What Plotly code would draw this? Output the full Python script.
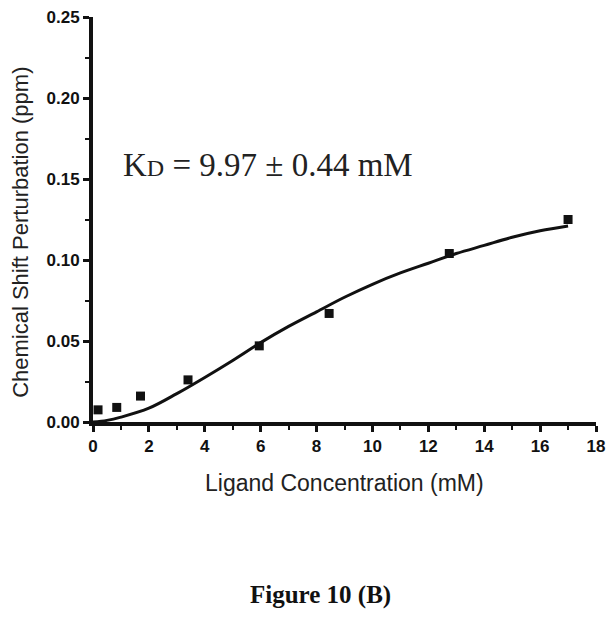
import plotly.graph_objects as go

# Observed data points
conc = [0.18, 0.85, 1.7, 3.4, 5.95, 8.45, 12.75, 17.0]
csp = [0.0075, 0.009, 0.016, 0.026, 0.047, 0.067, 0.104, 0.125]

# Fitted curve
fit_x = [0, 0.5, 1, 2, 3, 4, 5, 6, 7, 8, 9, 10, 11, 12, 13, 14, 15, 16, 17]
fit_y = [0.0, 0.001, 0.003, 0.0085, 0.0175, 0.0275, 0.038, 0.049, 0.059, 0.068,
         0.077, 0.085, 0.092, 0.098, 0.104, 0.109, 0.114, 0.118, 0.121]

x_ticks = [0, 2, 4, 6, 8, 10, 12, 14, 16, 18]
y_ticks = [0.00, 0.05, 0.10, 0.15, 0.20, 0.25]
y_ticklabels = ["0.00", "0.05", "0.10", "0.15", "0.20", "0.25"]

fig = go.Figure()
fig.add_trace(go.Scatter(x=fit_x, y=fit_y, mode="lines", line=dict(color="#111", width=3, shape="spline"),
                         showlegend=False, hoverinfo="skip"))
fig.add_trace(go.Scatter(x=conc, y=csp, mode="markers",
                         marker=dict(symbol="square", size=9, color="#111"), showlegend=False))

tickfont = dict(family="Liberation Sans, Arial, sans-serif", size=17, color="#111", weight="bold")
fig.update_xaxes(range=[0, 18], tickvals=x_ticks, ticks="outside", ticklen=6, tickwidth=3, tickcolor="#111",
                 showline=True, linewidth=4, linecolor="#111", showgrid=False, zeroline=False,
                 tickfont=tickfont, automargin=False, ticklabeloverflow="allow",
                 minor=dict(ticks="outside", dtick=1, ticklen=4, tickwidth=2, tickcolor="#111"))
fig.update_yaxes(range=[0, 0.25], tickvals=y_ticks, ticktext=y_ticklabels, ticks="outside", ticklen=6,
                 tickwidth=3, tickcolor="#111",
                 showline=True, linewidth=4, linecolor="#111", showgrid=False, zeroline=False,
                 tickfont=tickfont, automargin=False, ticklabeloverflow="allow",
                 minor=dict(ticks="outside", dtick=0.025, ticklen=4, tickwidth=2, tickcolor="#111"))

annots = [
    dict(text="Ligand Concentration (mM)", xref="paper", yref="paper", x=0.5, y=-0.151,
         xanchor="center", yanchor="middle", showarrow=False,
         font=dict(family="Liberation Sans, Arial, sans-serif", size=23, color="#222")),
    dict(text="Chemical Shift Perturbation (ppm)", xref="paper", yref="paper", x=(21 - 93) / 503, y=0.467,
         xanchor="center", yanchor="middle", textangle=-90, showarrow=False,
         font=dict(family="Liberation Sans, Arial, sans-serif", size=22, color="#222")),
    dict(text="K<span style='font-size:24px'>D</span> = 9.97 ± 0.44 mM", xref="x", yref="y",
         x=1.0, y=0.1586, xanchor="left", yanchor="middle", showarrow=False,
         font=dict(family="Liberation Serif, Times New Roman, serif", size=33, color="#222")),
    dict(text="<b>Figure 10 (B)</b>", xref="paper", yref="paper", x=(320 - 93) / 503, y=-0.427,
         xanchor="center", yanchor="middle", showarrow=False,
         font=dict(family="Liberation Serif, Times New Roman, serif", size=25, color="#111")),
]
fig.update_layout(width=606, height=610, margin=dict(l=85, r=18, t=9, b=196),
                  paper_bgcolor="white", plot_bgcolor="white", annotations=annots)

fig.write_html("out.html")
